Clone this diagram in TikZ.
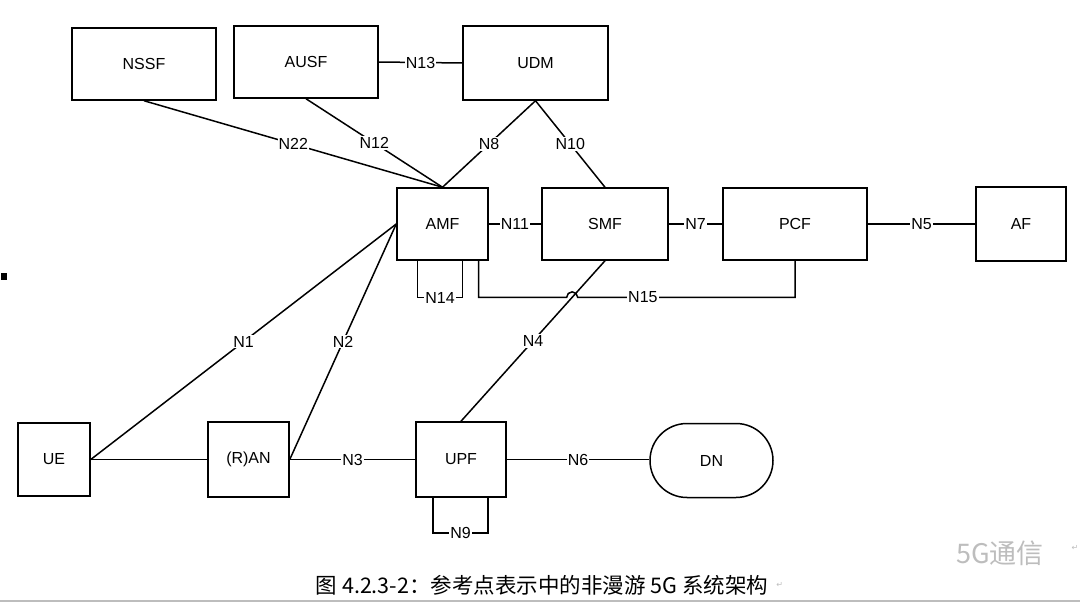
\documentclass[tikz,border=0pt]{standalone}
\usepackage{fontspec}
\setmainfont{Liberation Sans}
\newfontfamily\cjk{Noto Sans CJK SC}
\newfontfamily\symfont{DejaVu Sans}
\usetikzlibrary{calc}
\definecolor{cgrey}{HTML}{BDBDBD}
\tikzset{
  every picture/.style={font=\fontsize{16}{19}\selectfont, line width=1.5pt},
  nf/.style={draw, align=center, inner sep=0pt},
  lbl/.style={fill=white, inner sep=1pt},
  caption/.style={font=\cjk\fontsize{21.5}{24}\selectfont},
  retmark/.style={font=\symfont\fontsize{8}{8}\selectfont, text=cgrey},
}

\begin{document}
\begin{tikzpicture}[x=1pt, y=-1pt]
  \useasboundingbox (0,0) rectangle (1080,604);
  % network functions
  \foreach \n/\x/\y/\w/\h/\txt in {
    NSSF/144/64/144/72/NSSF, AUSF/306/62/144/72/AUSF, UDM/535.5/63/145/74/UDM,
    AMF/442.5/224/91/72/AMF, SMF/605/224/126/72/SMF, PCF/795/224/144/72/PCF,
    AF/1021/224/90/74/AF, UE/54/459.5/72/73/UE, RAN/248.5/459.5/81/75/{(R)AN},
    UPF/461/459.5/90/75/UPF}
    \node[nf, minimum width=\w pt, minimum height=\h pt] (\n) at (\x,\y) {\txt};
  \node[nf, minimum width=123pt, minimum height=74pt, rounded corners=37pt] (DN) at (711.5,460.5) {DN};
  % reference points
  \foreach \a/\b/\r in {AUSF.east/UDM.west/N13, NSSF.south/AMF.north/N22,
    AUSF.south/AMF.north/N12, UDM.south/AMF.north/N8, UDM.south/SMF.north/N10,
    AMF.east/SMF.west/N11, SMF.east/PCF.west/N7, PCF.east/AF.west/N5,
    UE.east/AMF.west/N1, RAN.east/AMF.west/N2, SMF.south/UPF.north/N4,
    RAN.east/UPF.west/N3}
    \draw (\a) -- node[lbl] {\r} (\b);
  \draw (UPF.east) -- node[lbl] {N6} (UPF.east -| DN.west);
  \draw (UE.east) -- (RAN.west);
  % loops
  \draw ([xshift=-25pt]AMF.south) -- ++(0,37) -- node[lbl] {N14} ++(45,0) -- ([xshift=20pt]AMF.south);
  \draw ([xshift=-28pt]UPF.south) -- ++(0,35) -- node[lbl] {N9} ++(55,0) -- ([xshift=27pt]UPF.south);
  % N15 hops over N4
  \coordinate (hop) at ($(SMF.south)!0.228!(UPF.north)$);
  \draw ([xshift=36pt]AMF.south) |- ([xshift=-5.5pt]hop) arc[start angle=180, end angle=360, radius=5.5]
    -- node[lbl, pos=0.3] {N15} (hop -| PCF.south) -- (PCF.south);
  % caption and page marks
  \node[caption] (cap) at (542,585) {图 4.2.3-2：参考点表示中的非漫游 5G 系统架构};
  \node[retmark, anchor=west] at (cap.east) {↵};
  \node[font=\cjk\fontsize{27}{30}\selectfont, text=cgrey] (wm) at (1000,553) {5G通信};
  \node[retmark] at (1075,548) {↵};
  \fill (1,273) rectangle (7,280);
  \draw[cgrey, line width=1.5pt] (0,601) -- (1080,601);
\end{tikzpicture}
\end{document}
